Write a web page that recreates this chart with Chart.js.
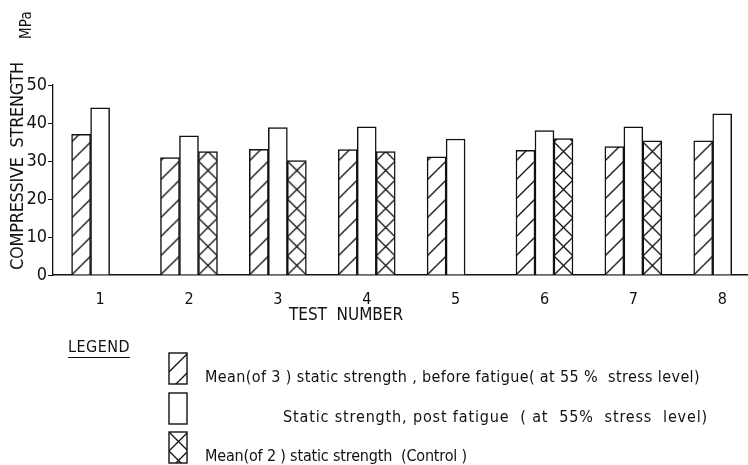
<!DOCTYPE html>
<html>
<head>
<meta charset="utf-8">
<script src="https://cdn.jsdelivr.net/npm/chart.js@4.4.1/dist/chart.umd.min.js"></script>
<style>
  html, body { margin: 0; padding: 0; background: #fff; }
  #wrap { position: relative; width: 748px; height: 465px; }
</style>
</head>
<body>
<div id="wrap"><canvas id="chart" width="748" height="465"></canvas></div>
<script>
// test numbers (x axis)
var testNumbers = [1, 2, 3, 4, 5, 6, 7, 8];
// compressive strength in MPa
var beforeFatigue = [37.0, 30.9, 33.1, 33.0, 31.1, 32.8, 33.8, 35.3];
var postFatigue   = [44.0, 36.6, 38.8, 39.0, 35.8, 38.0, 39.0, 42.4];
var control       = [null, 32.5, 30.1, 32.5, null, 35.9, 35.3, null];
var yTicks = [0, 10, 20, 30, 40, 50];

var seriesLabels = [
  'Mean(of 3 ) static strength , before fatigue( at 55 %  stress level)',
  'Static strength, post fatigue  ( at  55%  stress  level)',
  'Mean(of 2 ) static strength  (Control )'
];
var yTitle = 'COMPRESSIVE  STRENGTH';
var yUnit = 'MPa';
var xTitle = 'TEST  NUMBER';
var legendTitle = 'LEGEND';

var FONT = '"Liberation Sans Narrow", "DejaVu Sans Condensed", "Roboto", sans-serif';
var INK = '#111';
var BAR_W = 19;

// hatch tile, 19px square
var tiles = {};
function tile(kind) {
  if (tiles[kind]) return tiles[kind];
  var c = document.createElement('canvas');
  c.width = BAR_W; c.height = BAR_W;
  var g = c.getContext('2d');
  g.fillStyle = '#fff';
  g.fillRect(0, 0, BAR_W, BAR_W);
  g.strokeStyle = INK;
  g.lineWidth = 1.3;
  g.beginPath();
  g.moveTo(-1, BAR_W + 1); g.lineTo(BAR_W + 1, -1);
  if (kind === 'cross') { g.moveTo(-1, -1); g.lineTo(BAR_W + 1, BAR_W + 1); }
  g.stroke();
  tiles[kind] = c;
  return c;
}
// pattern lined up with the bar's left edge / baseline
function patternAt(kind, left, base) {
  var p = document.createElement('canvas').getContext('2d').createPattern(tile(kind), 'repeat');
  if (p.setTransform) p.setTransform(new DOMMatrix([1, 0, 0, 1, left, base]));
  return p;
}
function barFill(kind) {
  return function (c) {
    var xs = c.chart.scales.x, ys = c.chart.scales.y;
    if (!xs || !ys || c.dataIndex === undefined) return patternAt(kind, 0, 0);
    var centre = xs.getPixelForValue(testNumbers[c.dataIndex]);
    var left = centre - 1.5 * BAR_W + c.datasetIndex * BAR_W;
    return patternAt(kind, left, ys.getPixelForValue(0));
  };
}

function points(values) {
  return testNumbers.map(function (t, i) { return { x: t, y: values[i] }; });
}

// text stretched to the width it has in the scan
function fitText(ctx, text, left, cy, width, size) {
  ctx.font = size + 'px ' + FONT;
  ctx.letterSpacing = '0px';
  var w = ctx.measureText(text).width;
  ctx.letterSpacing = ((width - w) / text.length) + 'px';
  ctx.textAlign = 'left';
  ctx.textBaseline = 'middle';
  ctx.fillText(text, left, cy);
  ctx.letterSpacing = '0px';
}

var annotate = {
  id: 'annotate',
  afterDraw: function (chart) {
    var ctx = chart.ctx;
    ctx.save();
    ctx.fillStyle = INK;

    // y axis title + unit
    ctx.save();
    ctx.translate(18, 166);
    ctx.rotate(-Math.PI / 2);
    fitText(ctx, yTitle, -104, 0, 208, 18);
    ctx.restore();
    ctx.save();
    ctx.translate(27, 25);
    ctx.rotate(-Math.PI / 2);
    fitText(ctx, yUnit, -14, 0, 28, 15);
    ctx.restore();

    // x axis title
    fitText(ctx, xTitle, 289, 316, 114, 17);

    // legend
    fitText(ctx, legendTitle, 68, 348, 62, 16);
    ctx.strokeStyle = INK;
    ctx.lineWidth = 1;
    ctx.beginPath();
    ctx.moveTo(68, 357.5); ctx.lineTo(130, 357.5);
    ctx.stroke();

    var kinds = ['hatch', null, 'cross'];
    var rowsY = [353, 393, 432];
    var textX = [205, 283, 205];
    var textW = [495, 425, 262];
    for (var i = 0; i < 3; i++) {
      ctx.fillStyle = kinds[i] ? patternAt(kinds[i], 169, rowsY[i]) : '#fff';
      ctx.fillRect(169, rowsY[i], 18, 31);
      ctx.lineWidth = 1.4;
      ctx.strokeStyle = INK;
      ctx.strokeRect(169, rowsY[i], 18, 31);
      ctx.fillStyle = INK;
      fitText(ctx, seriesLabels[i], textX[i], rowsY[i] + 25, textW[i], 16);
    }
    ctx.restore();
  }
};

var barStyle = { borderColor: INK, borderWidth: 1.5, barThickness: BAR_W };

new Chart(document.getElementById('chart').getContext('2d'), {
  type: 'bar',
  data: {
    datasets: [
      Object.assign({ label: seriesLabels[0], data: points(beforeFatigue), backgroundColor: barFill('hatch') }, barStyle),
      Object.assign({ label: seriesLabels[1], data: points(postFatigue), backgroundColor: '#fff' }, barStyle),
      Object.assign({ label: seriesLabels[2], data: points(control), backgroundColor: barFill('cross') }, barStyle)
    ]
  },
  options: {
    responsive: false,
    animation: false,
    layout: { padding: { top: 85, right: 0, bottom: 0, left: 0 } },
    plugins: { legend: { display: false }, tooltip: { enabled: false } },
    scales: {
      x: {
        type: 'linear',
        min: 0.47,
        max: 8.29,
        offset: false,
        afterBuildTicks: function (s) { s.ticks = testNumbers.map(function (v) { return { value: v }; }); },
        afterFit: function (s) { s.height = 190; },
        grid: { display: false, drawTicks: false },
        border: { display: true, color: INK, width: 1.5 },
        ticks: { padding: 15, color: INK, font: { family: FONT, size: 16 } }
      },
      y: {
        min: 0,
        max: 50,
        afterBuildTicks: function (s) { s.ticks = yTicks.map(function (v) { return { value: v }; }); },
        afterFit: function (s) { s.width = 53; },
        grid: { drawOnChartArea: false, drawTicks: true, tickLength: 5, color: INK, lineWidth: 1 },
        border: { display: true, color: INK, width: 1.3 },
        ticks: { padding: 1, color: INK, font: { family: FONT, size: 18 } }
      }
    }
  },
  plugins: [annotate]
});
</script>
</body>
</html>
